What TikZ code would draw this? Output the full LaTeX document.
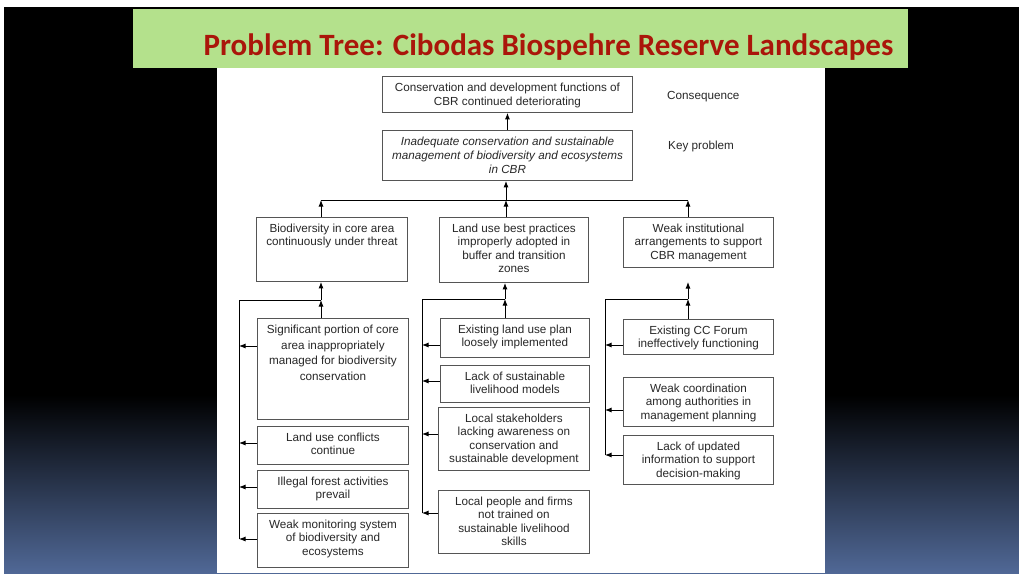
\documentclass[tikz,border=0pt]{standalone}
\usepackage{fontspec}
\setmainfont{Liberation Sans}
\newfontfamily\titlefont{Carlito}
\usetikzlibrary{arrows.meta}
\definecolor{bannergreen}{RGB}{180,225,140}
\definecolor{titlered}{RGB}{170,22,10}
\definecolor{slateblue}{RGB}{80,104,150}
\definecolor{ink}{RGB}{40,40,40}
\definecolor{frame}{RGB}{85,85,85}

% box with its text set from the top edge:
% [text options]{name}{x1}{y1}{x2}{y2}{text}
\newcommand\problembox[7][]{%
  \node[boxsty, anchor=north west, minimum width={#5-#3}, minimum height={#6-#4}] (#2) at (#3,#4) {};
  \node[txt, anchor=north, #1] (#2-t) at ([yshift=-7pt]#2.north) {#7};
}

\begin{document}
\begin{tikzpicture}[x=1pt,y=-1pt,
  boxsty/.style={draw=frame, line width=0.9pt, rectangle, inner sep=0pt},
  txt/.style={text=ink, align=center, inner sep=0pt, font=\fontsize{11.7}{13.3}\selectfont},
  arr/.style={draw=black, line width=0.9pt, -{Latex[length=6.5pt,width=5pt]}},
  wire/.style={draw=black, line width=0.9pt},
  side/.style={text=ink, inner sep=0pt, font=\fontsize{11.7}{14}\selectfont, anchor=base west}]

\useasboundingbox (0,0) rectangle (1019,573);

% slide backdrop
\fill[white] (0,0) rectangle (1019,573);
\fill[black] (4,7) rectangle (1019,573);
\shade[top color=black, bottom color=slateblue] (4,395) rectangle (1019,573);
\fill[white] (217,68) rectangle (825,573);
\fill[bannergreen] (133,9) rectangle (908,68);
\node[anchor=base, text=titlered, inner sep=0pt,
      font=\titlefont\bfseries\fontsize{31}{36}\selectfont] (title) at (548.5,55)
  {Problem Tree: Cibodas Biospehre Reserve Landscapes};

% upper levels
\problembox[font=\fontsize{11.7}{14}\selectfont]{cons}{382}{76}{632}{112}
  {Conservation and development functions of\\CBR continued deteriorating}
\problembox[font=\fontsize{11.7}{14}\selectfont\itshape]{keyp}{382}{130}{632}{180}
  {Inadequate conservation and sustainable\\management of biodiversity and ecosystems\\in CBR}
\node[side] (lblcons) at (667,99) {Consequence};
\node[side] (lblkey) at (668,149) {Key problem};

\problembox{A}{256}{217}{407}{281}{Biodiversity in core area\\continuously under threat}
\problembox{B}{439}{217}{588}{282}{Land use best practices\\improperly adopted in\\buffer and transition\\zones}
\problembox{C}{623}{217}{773}{267}{Weak institutional\\arrangements to support\\CBR management}

% causes, left column
\problembox[font=\fontsize{11.7}{15.5}\selectfont]{A1}{257}{318}{408}{419}
  {Significant portion of core\\area inappropriately\\managed for biodiversity\\conservation}
\problembox{A2}{257}{426}{408}{464}{Land use conflicts\\continue}
\problembox{A3}{257}{470}{408}{508}{Illegal forest activities\\prevail}
\problembox{A4}{257}{513}{408}{567}{Weak monitoring system\\of biodiversity and\\ecosystems}

% causes, middle column
\problembox{B1}{440}{318}{589}{357}{Existing land use plan\\loosely implemented}
\problembox{B2}{440}{365}{589}{402}{Lack of sustainable\\livelihood models}
\problembox{B3}{438}{407}{589}{470}{Local stakeholders\\lacking awareness on\\conservation and\\sustainable development}
\problembox{B4}{438}{490}{589}{553}{Local people and firms\\not trained on\\sustainable livelihood\\skills}

% causes, right column
\problembox{C1}{623}{319}{773}{354}{Existing CC Forum\\ineffectively functioning}
\problembox{C2}{623}{377}{773}{426}{Weak coordination\\among authorities in\\management planning}
\problembox{C3}{623}{435}{773}{484}{Lack of updated\\information to support\\decision-making}

% top connectors
\draw[arr] (keyp.north) -- (cons.south);
\coordinate (topA) at (321,200);
\coordinate (topM) at (506,200);
\coordinate (topC) at (688,200);
\draw[wire] (topA) -- (topC);
\draw[arr] (A.north -| topA) -- (topA);
\draw[arr] (B.north -| topM) -- (topM);
\draw[arr] (C.north -| topC) -- (topC);
\draw[arr] (topM) -- (keyp.south -| topM);

% left column connectors
\coordinate (jA) at (321,300);
\coordinate (railA) at (239,300);
\coordinate (railAend) at (239,539);
\draw[wire] (jA) -- (railA) -- (railAend);
\draw[arr] (A1.north -| jA) -- (jA);
\draw[arr] (jA) -- (A.south -| jA);
\draw[arr] (A1.west |- 0,346) -- (railA |- 0,346);
\draw[arr] (A2.west |- 0,443) -- (railA |- 0,443);
\draw[arr] (A3.west |- 0,487) -- (railA |- 0,487);
\draw[arr] (A4.west |- railAend) -- (railAend);

% middle column connectors
\coordinate (jB) at (505,299);
\coordinate (railB) at (422,299);
\coordinate (railBend) at (422,513);
\draw[wire] (jB) -- (railB) -- (railBend);
\draw[arr] (B1.north -| jB) -- (jB);
\draw[arr] (jB) -- (B.south -| jB);
\draw[arr] (B1.west |- 0,345) -- (railB |- 0,345);
\draw[arr] (B2.west |- 0,381) -- (railB |- 0,381);
\draw[arr] (B3.west |- 0,434) -- (railB |- 0,434);
\draw[arr] (B4.west |- railBend) -- (railBend);

% right column connectors
\coordinate (jC) at (688,299);
\coordinate (railC) at (605,299);
\coordinate (railCend) at (605,455);
\coordinate (gapC) at (688,282);
\draw[wire] (jC) -- (railC) -- (railCend);
\draw[arr] (C1.north -| jC) -- (jC);
\draw[arr] (jC) -- (gapC);
\draw[arr] (C1.west |- 0,345) -- (railC |- 0,345);
\draw[arr] (C2.west |- 0,410) -- (railC |- 0,410);
\draw[arr] (C3.west |- railCend) -- (railCend);

\end{tikzpicture}
\end{document}
